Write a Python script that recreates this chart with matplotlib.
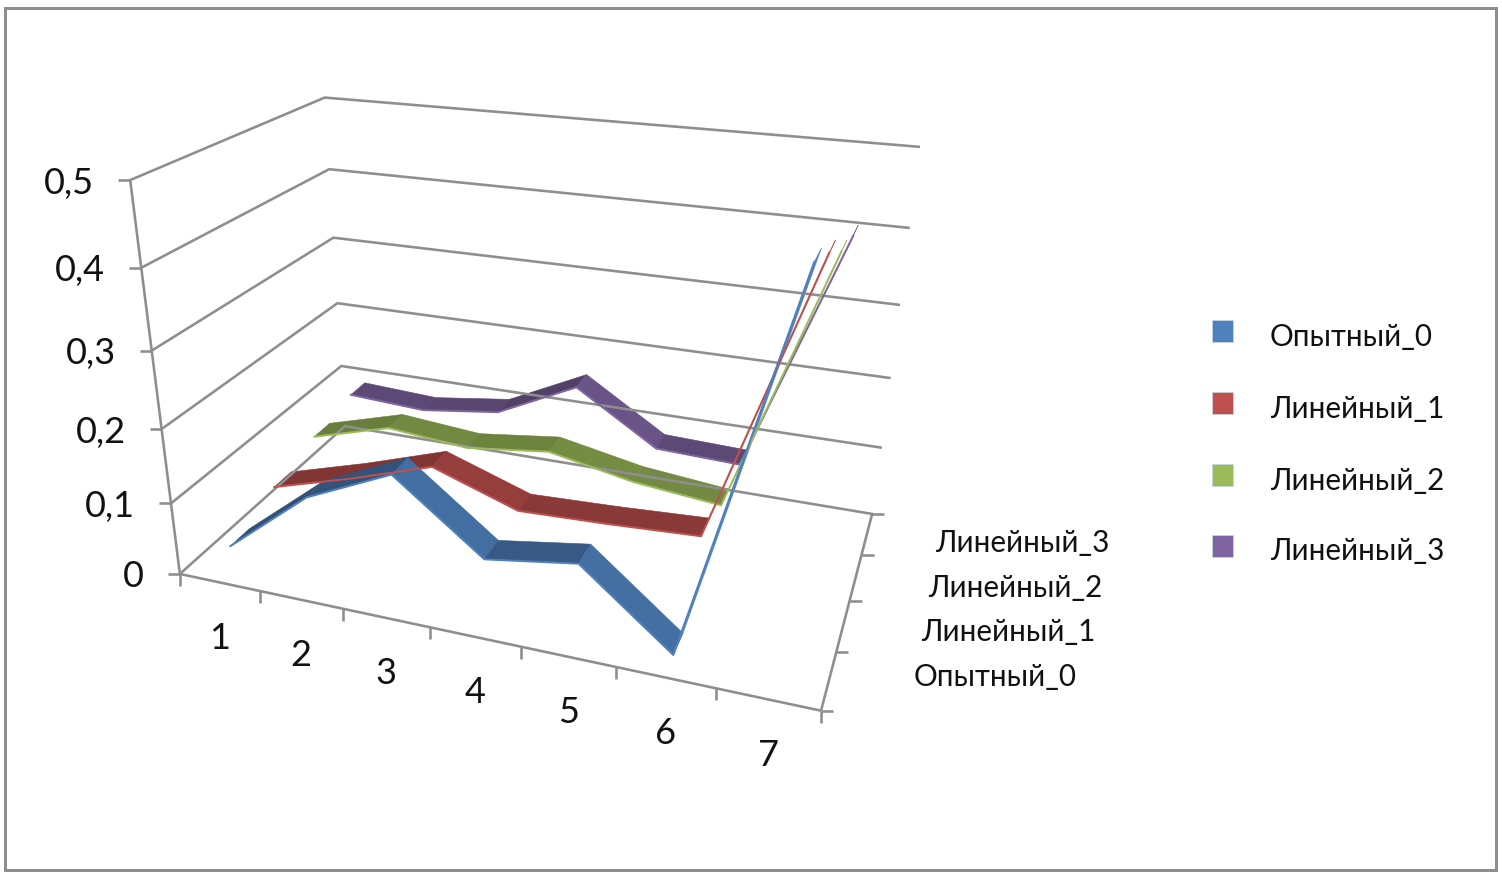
import numpy as np, matplotlib
matplotlib.use('Agg')
import matplotlib.pyplot as plt
from matplotlib.patches import Polygon, Rectangle
from matplotlib.colors import to_rgb

categories = ['1', '2', '3', '4', '5', '6', '7']
series_names = ['Опытный_0', 'Линейный_1', 'Линейный_2', 'Линейный_3']
opytny_0 = [0.034, 0.124, 0.175, 0.086, 0.104, 0.009, 0.483]
lineyny_1 = [0.060, 0.093, 0.130, 0.090, 0.094, 0.100, 0.457]
lineyny_2 = [0.081, 0.113, 0.103, 0.117, 0.094, 0.082, 0.423]
lineyny_3 = [0.096, 0.090, 0.105, 0.160, 0.088, 0.084, 0.408]
value_ticks = [0, 0.1, 0.2, 0.3, 0.4, 0.5]
value_labels = ['0', '0,1', '0,2', '0,3', '0,4', '0,5']
series_values = [opytny_0, lineyny_1, lineyny_2, lineyny_3]
colors = ['#4F81BD', '#C0504D', '#9BBB59', '#8064A2']

# camera of the 3-D chart box: (x, depth, value/0.5) -> picture pixels
CAM = np.array([[521.11915, 244.65944, -66.20617, 179.87191],
                [32.83743, -49.5569, -416.72175, 573.94701],
                [-0.14623, 0.2305, -0.127, 1.0]])
def project(x, d, v):
    h = CAM @ np.array([x, d, v / 0.5, 1.0])
    return h[0] / h[2], h[1] / h[2]

GRID = '#8E8E8E'
FONT = ['Lato', 'DejaVu Sans']
FS = 21.3
FS_NUM = 26
INK = '#111111'
px = 0.72

fig = plt.figure(figsize=(15.02, 8.81), dpi=100, facecolor='white')
ax = fig.add_axes([0, 0, 1, 1])
ax.set_xlim(0, 1502)
ax.set_ylim(881, 0)
ax.axis('off')

ax.add_patch(Rectangle((5, 8), 1491, 862, fill=False, ec=GRID, lw=3 * px))

def seg(a, b):
    ax.plot([a[0], b[0]], [a[1], b[1]], color=GRID, lw=2.6 * px, solid_capstyle='butt')

TICK = 12
for v, lab in zip(value_ticks, value_labels):
    a, b, c = project(0, 0, v), project(0, 1, v), project(1, 1, v)
    ax.plot([a[0], b[0], c[0]], [a[1], b[1], c[1]], color=GRID, lw=2.6 * px, solid_joinstyle='miter')
    seg((a[0] - TICK, a[1]), a)
    ax.text(a[0] - 36, a[1] + 3, lab, ha='right', va='center', family=FONT, fontsize=FS_NUM, color=INK)
seg(project(0, 0, 0), project(0, 0, 0.5))
seg(project(0, 0, 0), project(1, 0, 0))
seg(project(1, 0, 0), project(1, 1, 0))
n = len(categories)
for k in range(n + 1):
    p = project(k / n, 0, 0)
    seg(p, (p[0], p[1] + TICK))
m = len(series_names)
for k in range(m + 1):
    p = project(1, k / m, 0)
    seg(p, (p[0] + TICK, p[1]))
for i, lab in enumerate(categories):
    p = project((i + 0.5) / n, 0, 0)
    ax.text(p[0], p[1] + 56, lab, ha='center', va='center', family=FONT, fontsize=FS_NUM, color=INK)

depth_label_pos = [(914, 677), (921, 632), (928, 588), (935, 543)]
for name, (tx, ty) in zip(series_names, depth_label_pos):
    ax.text(tx, ty, name, ha='left', va='center', family=FONT, fontsize=FS, color=INK)

HALF = 0.05
for s in range(m - 1, -1, -1):
    vals = series_values[s]
    dc = (s + 0.5) / m - 0.005
    base = np.array(to_rgb(colors[s]))
    front = [project((i + 0.5) / n, dc - HALF, vals[i]) for i in range(n)]
    back = [project((i + 0.5) / n, dc + HALF, vals[i]) for i in range(n)]
    for i in range(n - 1):
        drop = vals[i] - vals[i + 1]
        # a steep rise is seen almost edge-on, so only its bright edge shows
        c = base if drop < -0.2 else base * np.clip(0.72 + 1.5 * drop, 0.62, 0.86)
        ax.add_patch(Polygon([front[i], front[i + 1], back[i + 1], back[i]], closed=True,
                             fc=c, ec=c, lw=0.4, joinstyle='round'))
    fx, fy = zip(*front)
    ax.plot(fx, fy, color=base, lw=2.0 * px, solid_joinstyle='round')

legend_y = [331, 403, 475, 546]
for name, col, y in zip(series_names, colors, legend_y):
    ax.add_patch(Rectangle((1212, y - 11), 21, 22, fc=col, ec='#C9D6E6', lw=0.5))
    ax.text(1270, y + 5.5, name, ha='left', va='center', family=FONT, fontsize=FS, color=INK)

fig.savefig('out.png', dpi=100)
